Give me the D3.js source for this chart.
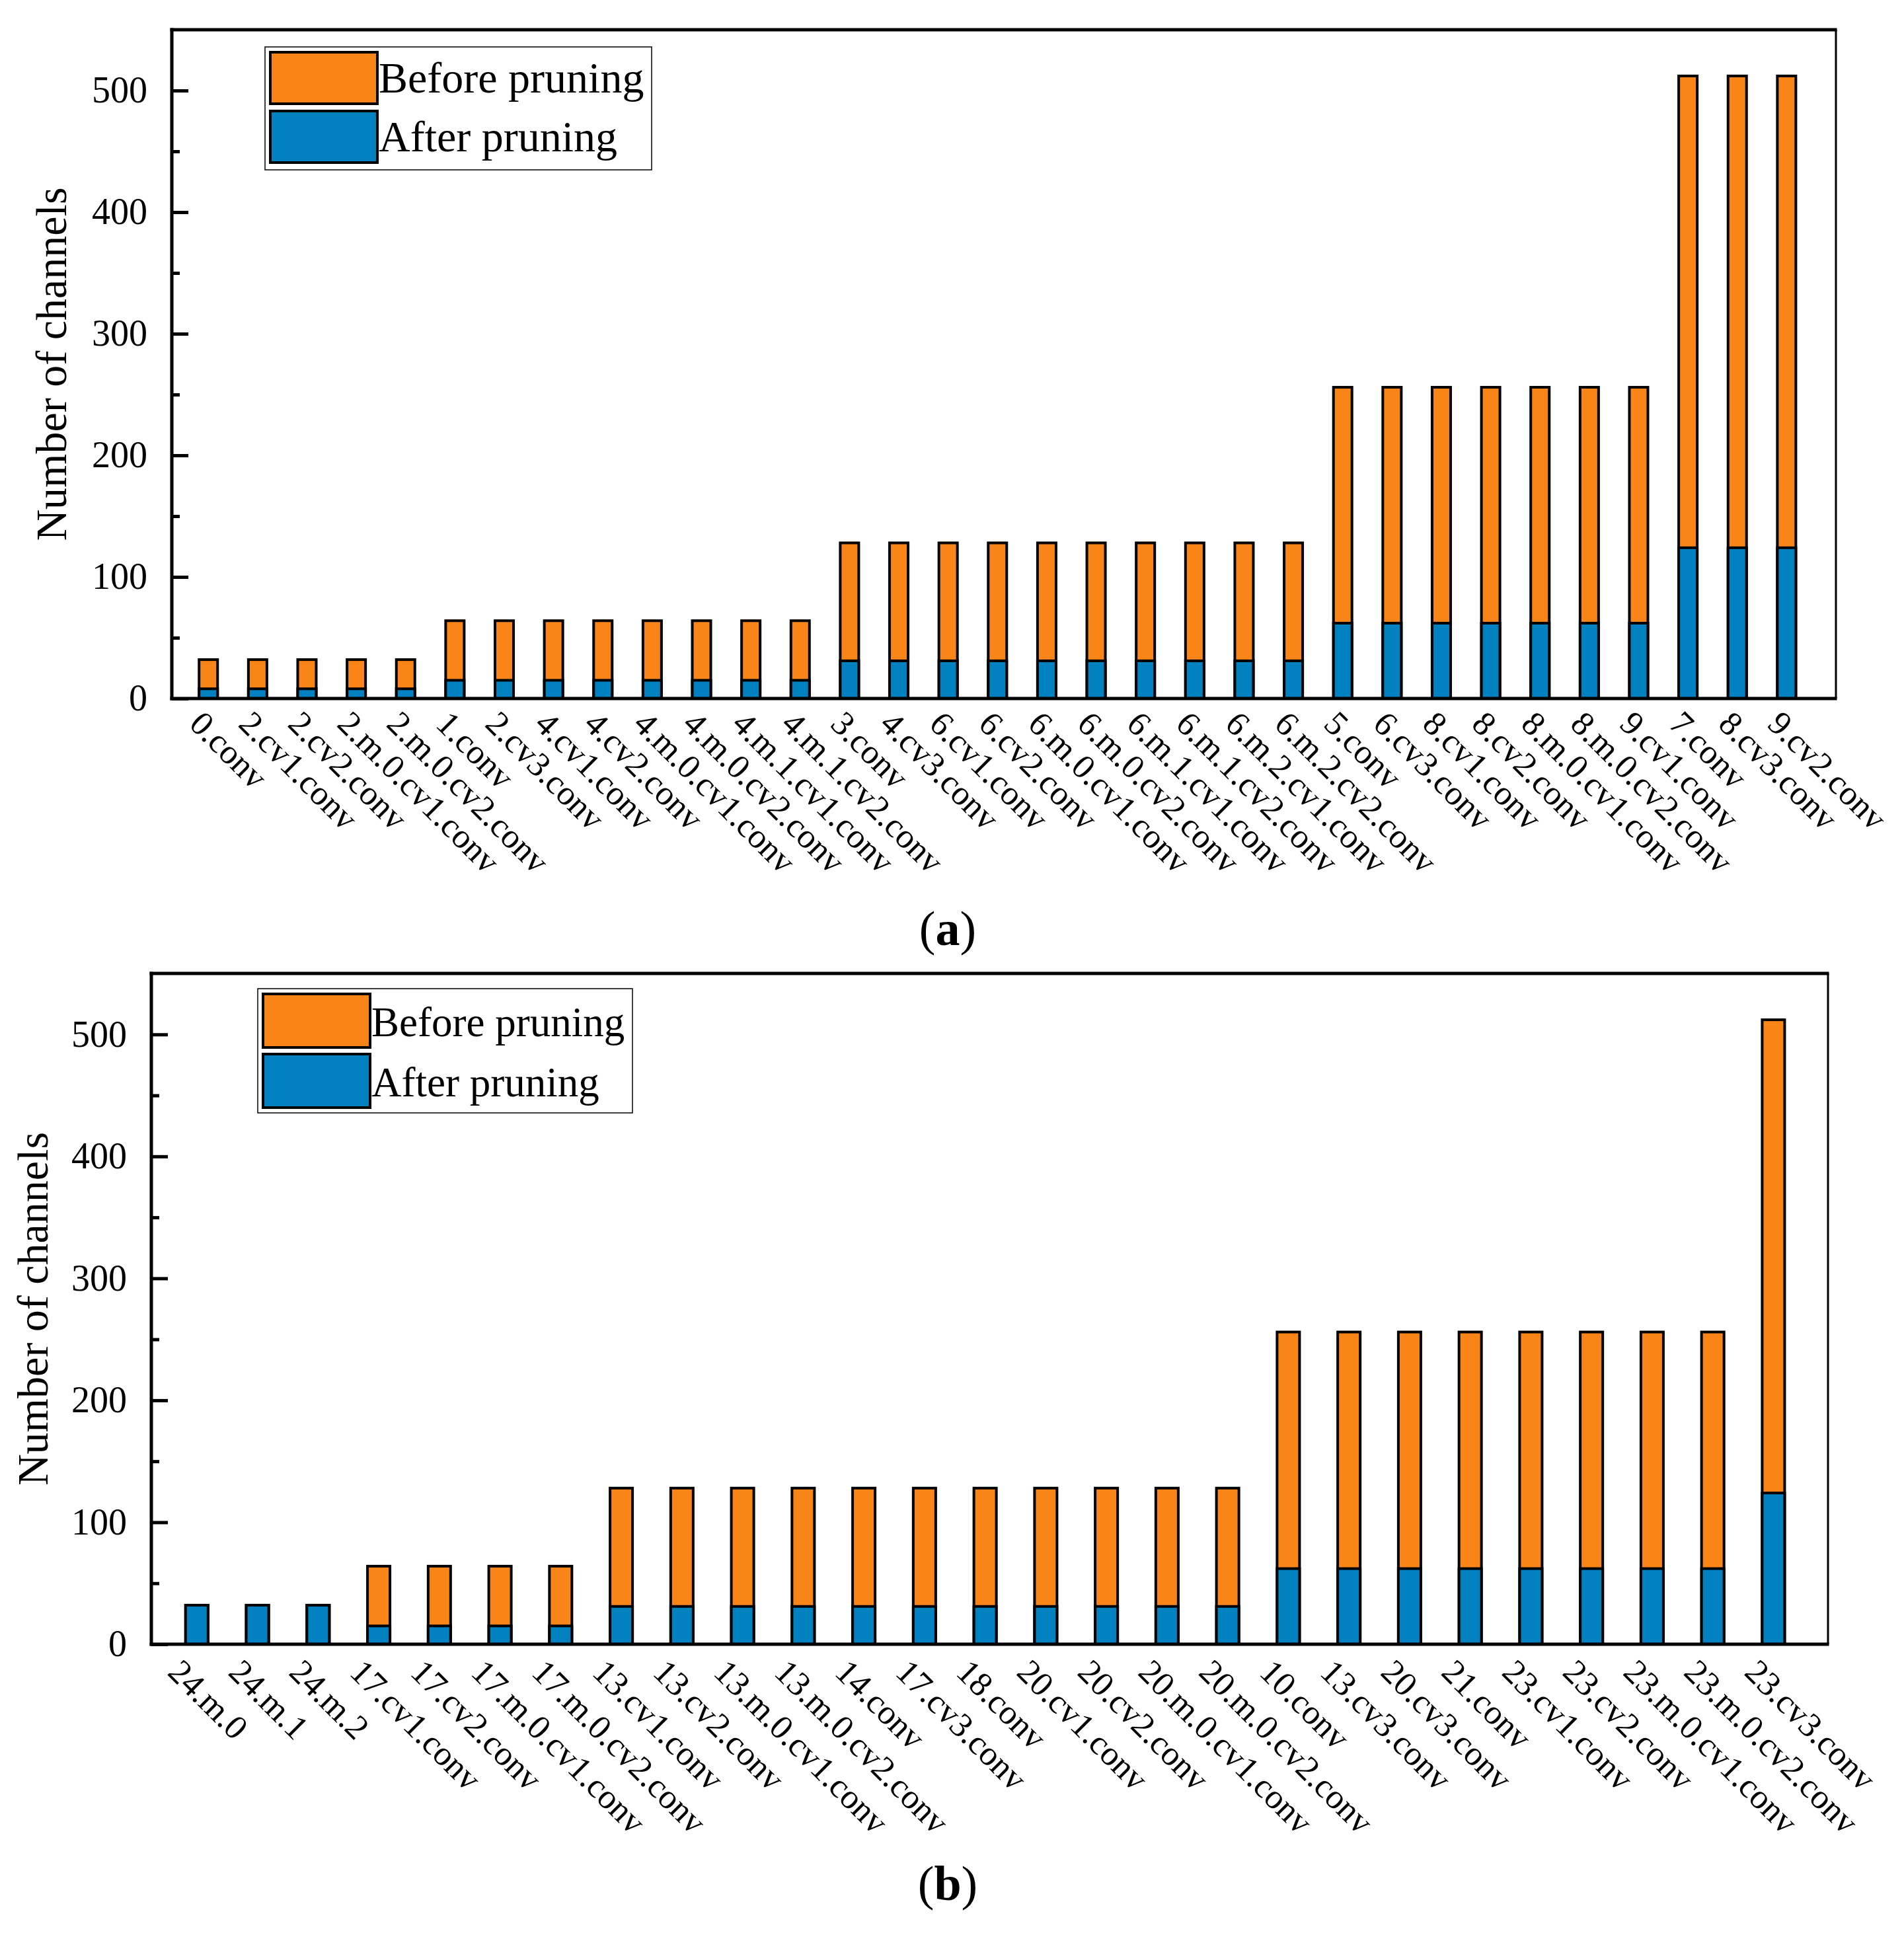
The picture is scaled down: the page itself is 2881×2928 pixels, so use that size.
<!DOCTYPE html>
<html>
<head>
<meta charset="utf-8">
<script src="https://cdn.jsdelivr.net/npm/d3@7"></script>
<style>
  body { margin: 0; background: #fff; }
  text { font-family: "Palatino Linotype", "Book Antiqua", Palatino, "Liberation Serif", serif; fill: #000; }
</style>
</head>
<body>
<div id="chart"></div>
<script>
// ---- data ----
const labelsA = ["0.conv", "2.cv1.conv", "2.cv2.conv", "2.m.0.cv1.conv", "2.m.0.cv2.conv",
	"1.conv", "2.cv3.conv", "4.cv1.conv", "4.cv2.conv", "4.m.0.cv1.conv", "4.m.0.cv2.conv",
	"4.m.1.cv1.conv", "4.m.1.cv2.conv", "3.conv", "4.cv3.conv", "6.cv1.conv", "6.cv2.conv",
	"6.m.0.cv1.conv", "6.m.0.cv2.conv", "6.m.1.cv1.conv", "6.m.1.cv2.conv", "6.m.2.cv1.conv",
	"6.m.2.cv2.conv", "5.conv", "6.cv3.conv", "8.cv1.conv", "8.cv2.conv", "8.m.0.cv1.conv",
	"8.m.0.cv2.conv", "9.cv1.conv", "7.conv", "8.cv3.conv", "9.cv2.conv"];
const beforeA = [32, 32, 32, 32, 32,
	64, 64, 64, 64, 64, 64, 64, 64,
	128, 128, 128, 128, 128, 128, 128, 128, 128, 128,
	256, 256, 256, 256, 256, 256, 256,
	512, 512, 512];
const afterA = [8, 8, 8, 8, 8,
	15, 15, 15, 15, 15, 15, 15, 15,
	31, 31, 31, 31, 31, 31, 31, 31, 31, 31,
	62, 62, 62, 62, 62, 62, 62,
	124, 124, 124];

const labelsB = ["24.m.0", "24.m.1", "24.m.2", "17.cv1.conv", "17.cv2.conv", "17.m.0.cv1.conv",
	"17.m.0.cv2.conv", "13.cv1.conv", "13.cv2.conv", "13.m.0.cv1.conv", "13.m.0.cv2.conv",
	"14.conv", "17.cv3.conv", "18.conv", "20.cv1.conv", "20.cv2.conv", "20.m.0.cv1.conv",
	"20.m.0.cv2.conv", "10.conv", "13.cv3.conv", "20.cv3.conv", "21.conv", "23.cv1.conv",
	"23.cv2.conv", "23.m.0.cv1.conv", "23.m.0.cv2.conv", "23.cv3.conv"];
const beforeB = [32, 32, 32,
	64, 64, 64, 64,
	128, 128, 128, 128, 128, 128, 128, 128, 128, 128, 128,
	256, 256, 256, 256, 256, 256, 256, 256,
	512];
const afterB = [32, 32, 32,
	15, 15, 15, 15,
	31, 31, 31, 31, 31, 31, 31, 31, 31, 31, 31,
	62, 62, 62, 62, 62, 62, 62, 62,
	124];

const yTicks = [0, 100, 200, 300, 400, 500];
const yMinorTicks = [50, 150, 250, 350, 450];
const seriesNames = ["Before pruning", "After pruning"];
const captions = ["a", "b"];

const colorBefore = "#F98518";
const colorAfter = "#0281C1";

// ---- drawing ----
let svg = d3.select("#chart").append("svg")
	.attr("width", 2881)
	.attr("height", 2928)
	.style("background", "#fff");

function drawPanel(cfg) {
	let g = svg.append("g");

	let x = d3.scaleLinear().domain(cfg.xDomain).range([cfg.left, cfg.right]);
	let y = d3.scaleLinear().domain([0, 550]).range([cfg.bottom, cfg.top]);

	// bars: orange (before) behind, blue (after) on top
	let bars = g.append("g").selectAll("g.bar")
		.data(cfg.labels)
		.enter().append("g")
			.attr("class", "bar");

	bars.append("rect")
		.attr("x", (o, i) => x(i) - cfg.barW / 2)
		.attr("width", cfg.barW)
		.attr("y", (o, i) => y(cfg.before[i]))
		.attr("height", (o, i) => y(0) - y(cfg.before[i]))
		.attr("fill", colorBefore)
		.attr("stroke", "#000")
		.attr("stroke-width", 4);

	bars.append("rect")
		.attr("x", (o, i) => x(i) - cfg.barW / 2)
		.attr("width", cfg.barW)
		.attr("y", (o, i) => y(cfg.after[i]))
		.attr("height", (o, i) => y(0) - y(cfg.after[i]))
		.attr("fill", colorAfter)
		.attr("stroke", "#000")
		.attr("stroke-width", 4);

	// frame
	g.append("line").attr("x1", cfg.right).attr("x2", cfg.right)
		.attr("y1", cfg.top).attr("y2", cfg.bottom)
		.attr("stroke", "#000").attr("stroke-width", 3);
	g.append("line").attr("x1", cfg.left - 2.5).attr("x2", cfg.right + 1.5)
		.attr("y1", cfg.top).attr("y2", cfg.top)
		.attr("stroke", "#000").attr("stroke-width", 5);

	// y axis (ticks inward)
	let yAxis = g.append("g")
		.attr("transform", "translate(" + cfg.left + ",0)")
		.call(d3.axisRight(y).tickValues(yTicks).tickSize(25).tickFormat(""));
	yAxis.select(".domain").remove();
	yAxis.selectAll(".tick line").attr("stroke", "#000").attr("stroke-width", 5);

	let yMinor = g.append("g")
		.attr("transform", "translate(" + cfg.left + ",0)")
		.call(d3.axisRight(y).tickValues(yMinorTicks).tickSize(12).tickFormat(""));
	yMinor.select(".domain").remove();
	yMinor.selectAll(".tick line").attr("stroke", "#000").attr("stroke-width", 5);

	g.append("g").selectAll("text")
		.data(yTicks)
		.enter().append("text")
			.attr("x", cfg.left - 37)
			.attr("y", (o) => y(o))
			.attr("dy", "0.33em")
			.attr("text-anchor", "end")
			.style("font-size", "56px")
			.text((o) => o);

	g.append("line").attr("x1", cfg.left).attr("x2", cfg.left)
		.attr("y1", cfg.top - 2.5).attr("y2", cfg.bottom + 2.5)
		.attr("stroke", "#000").attr("stroke-width", 5);
	g.append("line").attr("x1", cfg.left - 2.5).attr("x2", cfg.right + 1.5)
		.attr("y1", cfg.bottom).attr("y2", cfg.bottom)
		.attr("stroke", "#000").attr("stroke-width", 5);

	// x labels rotated 45 degrees
	g.append("g").selectAll("text")
		.data(cfg.labels)
		.enter().append("text")
			.attr("transform", (o, i) => "translate(" + (x(i) + cfg.lblDx) + "," + (cfg.bottom + cfg.lblDy) + ") rotate(45)")
			.style("font-size", "52px")
			.text((o) => o);

	// y title
	g.append("text")
		.attr("transform", "translate(" + cfg.titleX + "," + ((cfg.top + cfg.bottom) / 2) + ") rotate(-90)")
		.attr("text-anchor", "middle")
		.style("font-size", "66px")
		.text("Number of channels");

	// legend
	let lg = g.append("g").attr("transform", "translate(" + cfg.legX + "," + cfg.legY + ")");
	lg.append("rect")
		.attr("width", cfg.legW).attr("height", cfg.legH)
		.attr("fill", "#fff").attr("stroke", "#000").attr("stroke-width", 1.5);
	let items = lg.selectAll("g.item")
		.data(seriesNames)
		.enter().append("g")
			.attr("class", "item")
			.attr("transform", (o, i) => "translate(8," + (8 + i * cfg.legStep) + ")");
	items.append("rect")
		.attr("width", 162).attr("height", cfg.swH)
		.attr("fill", (o, i) => (i === 0 ? colorBefore : colorAfter))
		.attr("stroke", "#000").attr("stroke-width", 4);
	items.append("text")
		.attr("x", 164)
		.attr("y", cfg.swH - 17)
		.style("font-size", cfg.legFont + "px")
		.text((o) => o);

	// caption
	let cap = g.append("text")
		.attr("x", 1434).attr("y", cfg.capY)
		.attr("text-anchor", "middle")
		.style("font-size", "74px");
	cap.append("tspan").text("(");
	cap.append("tspan").style("font-weight", "bold").text(cfg.caption);
	cap.append("tspan").text(")");
}

drawPanel({
	labels: labelsA, before: beforeA, after: afterA,
	left: 260, right: 2778, top: 45, bottom: 1057,
	xDomain: [-0.74, 33], barW: 28,
	lblDx: -31, lblDy: 41, titleX: 100,
	legX: 401, legY: 71, legW: 585, legH: 186, legStep: 89, swH: 78, legFont: 66,
	caption: captions[0], capY: 1430
});

drawPanel({
	labels: labelsB, before: beforeB, after: afterB,
	left: 229, right: 2766, top: 1473, bottom: 2488,
	xDomain: [-0.75, 26.9], barW: 34,
	lblDx: -46, lblDy: 45, titleX: 72,
	legX: 390, legY: 1496, legW: 567, legH: 188, legStep: 91, swH: 81, legFont: 63,
	caption: captions[1], capY: 2875
});
</script>
</body>
</html>
